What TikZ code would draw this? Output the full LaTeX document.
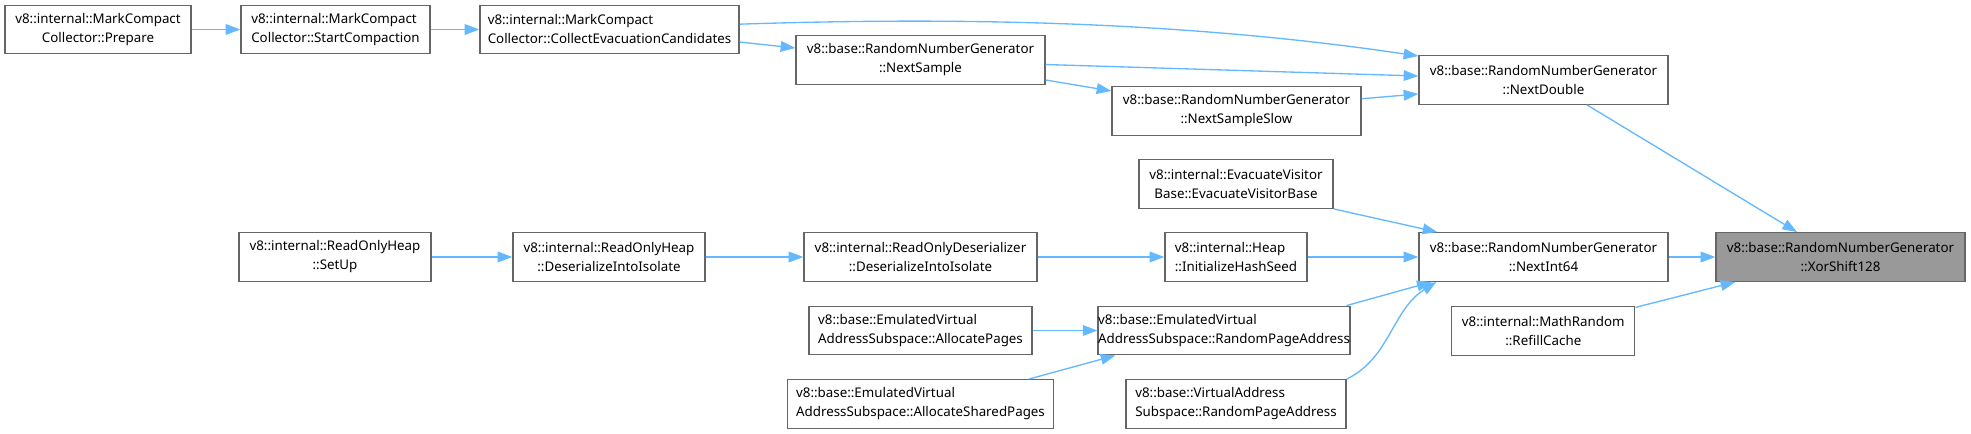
\documentclass[tikz,border=0pt]{standalone}
\usepackage{fontspec}
\setmainfont{Noto Sans}
\usetikzlibrary{arrows.meta}
\definecolor{edgeblue}{HTML}{63B8FF}
\definecolor{boxgray}{HTML}{666666}
\definecolor{rootfill}{HTML}{999999}
\tikzset{
  box/.style={draw=boxgray, line width=1pt, fill=white, align=center, minimum height=36.4pt, inner sep=0pt, font=\fontsize{10}{14.25}\selectfont},
  boxl/.style={box, align=left},
  kroot/.style={box, fill=rootfill},
  flow/.style={-{Triangle[length=11pt, width=8pt]}, draw=edgeblue, line width=1pt},
}
\begin{document}
\begin{tikzpicture}[x=0.75pt, y=-0.75pt]
    \useasboundingbox (0,0) rectangle (1971,434);
    \node[box, minimum width=139.5pt] (prep) at (98.00,29.50) {v8::internal::MarkCompact\\Collector::Prepare};
    \node[boxl, minimum width=141.75pt] (startc) at (335.50,29.50) {v8::internal::MarkCompact\\Collector::StartCompaction};
    \node[boxl, minimum width=194.25pt] (collect) at (609.50,29.50) {v8::internal::MarkCompact\\Collector::CollectEvacuationCandidates};
    \node[box, minimum width=186.75pt] (nsample) at (920.50,60.00) {v8::base::RandomNumberGenerator\\::NextSample};
    \node[box, minimum width=186.75pt] (nslow) at (1236.50,111.00) {v8::base::RandomNumberGenerator\\::NextSampleSlow};
    \node[box, minimum width=186.75pt] (ndouble) at (1543.50,80.00) {v8::base::RandomNumberGenerator\\::NextDouble};
    \node[box, minimum width=145.5pt] (evacvb) at (1236.00,184.00) {v8::internal::EvacuateVisitor\\Base::EvacuateVisitorBase};
    \node[box, minimum width=186.75pt] (nint) at (1543.50,257.00) {v8::base::RandomNumberGenerator\\::NextInt64};
    \node[kroot, minimum width=186.75pt] (xorshift) at (1840.50,257.00) {v8::base::RandomNumberGenerator\\::XorShift128};
    \node[box, minimum width=144pt] (setup) at (335.00,257.00) {v8::internal::ReadOnlyHeap\\::SetUp};
    \node[box, minimum width=144pt] (rohdes) at (609.00,257.00) {v8::internal::ReadOnlyHeap\\::DeserializeIntoIsolate};
    \node[box, minimum width=174.75pt] (rodes) at (920.50,257.00) {v8::internal::ReadOnlyDeserializer\\::DeserializeIntoIsolate};
    \node[boxl, minimum width=106.5pt] (hashseed) at (1236.00,257.00) {v8::internal::Heap\\::InitializeHashSeed};
    \node[boxl, minimum width=167.25pt] (allocp) at (920.50,330.50) {v8::base::EmulatedVirtual\\AddressSubspace::AllocatePages};
    \node[boxl, minimum width=183pt] (emurpa) at (1224.00,330.50) {v8::base::EmulatedVirtual\\AddressSubspace::RandomPageAddress};
    \node[box, minimum width=137.25pt] (refill) at (1543.30,331.00) {v8::internal::MathRandom\\::RefillCache};
    \node[boxl, minimum width=199.5pt] (allocsh) at (920.50,404.00) {v8::base::EmulatedVirtual\\AddressSubspace::AllocateSharedPages};
    \node[boxl, minimum width=165pt] (varpa) at (1236.00,404.00) {v8::base::VirtualAddress\\Subspace::RandomPageAddress};
    \draw[flow] (prep) -- (startc);
    \draw[flow] (startc) -- (collect);
    \draw[flow] ([yshift=4pt]collect.east) .. controls (900,19) and (1150,16) .. ([yshift=-0.75pt]ndouble.north west);
    \draw[flow] ([yshift=-9.4pt]collect.east) -- ([yshift=9pt]nsample.west);
    \draw[flow] ([yshift=-3.4pt]nsample.east) -- ([yshift=3pt]ndouble.west);
    \draw[flow] ([yshift=-15pt]nsample.east) -- ([yshift=15pt]nslow.west);
    \draw[flow] ([yshift=9.2pt]nslow.east) -- ([yshift=-10.5pt]ndouble.west);
    \draw[flow] ([xshift=32.6pt]ndouble.south) -- ([xshift=-32.6pt]xorshift.north);
    \draw[flow] (evacvb.south east) -- ([xshift=14.25pt]nint.north west);
    \draw[flow] (hashseed) -- (nint);
    \draw[flow] (nint) -- (xorshift);
    \draw[flow] ([yshift=-1pt]refill.north east) -- ([xshift=15pt]xorshift.south west);
    \draw[flow] ([xshift=-3pt]emurpa.north east) -- ([xshift=10pt]nint.south west);
    \draw[flow] (varpa.north east) .. controls (1390,358) and (1392,310) .. ([xshift=13.5pt]nint.south west);
    \draw[flow] (allocp) -- (emurpa);
    \draw[flow] ([xshift=-19pt]allocsh.north east) -- ([xshift=13.5pt]emurpa.south west);
    \draw[flow] (setup) -- (rohdes);
    \draw[flow] (rohdes) -- (rodes);
    \draw[flow] (rodes) -- (hashseed);
  \end{tikzpicture}
\end{document}
